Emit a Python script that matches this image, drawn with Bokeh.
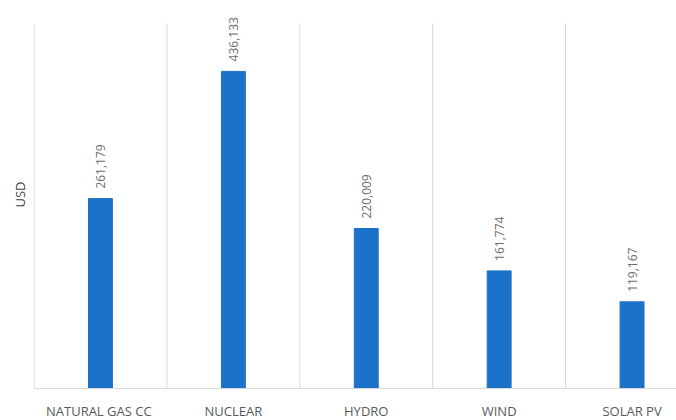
from bokeh.plotting import figure
from bokeh.models import Range1d, FixedTicker, ColumnDataSource, LabelSet
from bokeh.core.properties import value
from bokeh.embed import file_html
from bokeh.resources import INLINE

categories = ["NATURAL GAS  CC", "NUCLEAR", "HYDRO", "WIND", "SOLAR PV"]
values = [261179, 436133, 220009, 161774, 119167]
y_title = "USD"
axis_max = 502000

xs = [i + 0.5 for i in range(len(categories))]
labels = [f"{v:,}" for v in values]
src = ColumnDataSource(dict(x=xs, top=values, label=labels))
bounds = list(range(len(categories) + 1))
grid_src = ColumnDataSource(dict(x=bounds, y0=[0] * len(bounds), y1=[axis_max] * len(bounds)))

p = figure(frame_width=643, frame_height=388, output_backend="svg", toolbar_location=None,
           x_range=Range1d(-0.004, 643 / 133), y_range=Range1d(0, axis_max * 388 / 365),
           min_border_left=33, min_border_right=0, min_border_top=0, min_border_bottom=0)
p.outline_line_color = None
p.background_fill_color = "white"
p.border_fill_color = "white"

p.segment(x0="x", x1="x", y0="y0", y1="y1", source=grid_src, line_color="#d9d9d9", line_width=1)
p.vbar(x="x", top="top", width=0.18, bottom=0, source=src, color="#1c72c8")
lbl = LabelSet(x="x", y="top", text="label", source=src, angle=1.5708, y_offset=10,
               text_align="left", text_baseline="middle", text_font=value("Open Sans"),
               text_font_size="12px", text_color="#6b6b6b")
p.add_layout(lbl)

p.xaxis.ticker = FixedTicker(ticks=xs)
p.xaxis.major_label_overrides = {x: c for x, c in zip(xs, categories)}
p.xaxis.major_tick_line_color = None
p.xaxis.minor_tick_line_color = None
p.xaxis.major_tick_out = 0
p.xaxis.major_tick_in = 0
p.xaxis.axis_line_color = "#d9d9d9"
p.xaxis.major_label_standoff = 13
p.xaxis.major_label_text_font = "Open Sans"
p.xaxis.major_label_text_font_size = "13px"
p.xaxis.major_label_text_color = "#595959"

p.yaxis.axis_label = y_title
p.yaxis.ticker = FixedTicker(ticks=[])
p.yaxis.major_tick_line_color = None
p.yaxis.minor_tick_line_color = None
p.yaxis.axis_line_color = None
p.yaxis.axis_label_standoff = 5
p.yaxis.axis_label_text_font = "Open Sans"
p.yaxis.axis_label_text_font_style = "normal"
p.yaxis.axis_label_text_font_size = "13px"
p.yaxis.axis_label_text_color = "#404040"

p.xgrid.grid_line_color = None
p.ygrid.grid_line_color = None

open("out.html", "w").write(file_html(p, INLINE))
